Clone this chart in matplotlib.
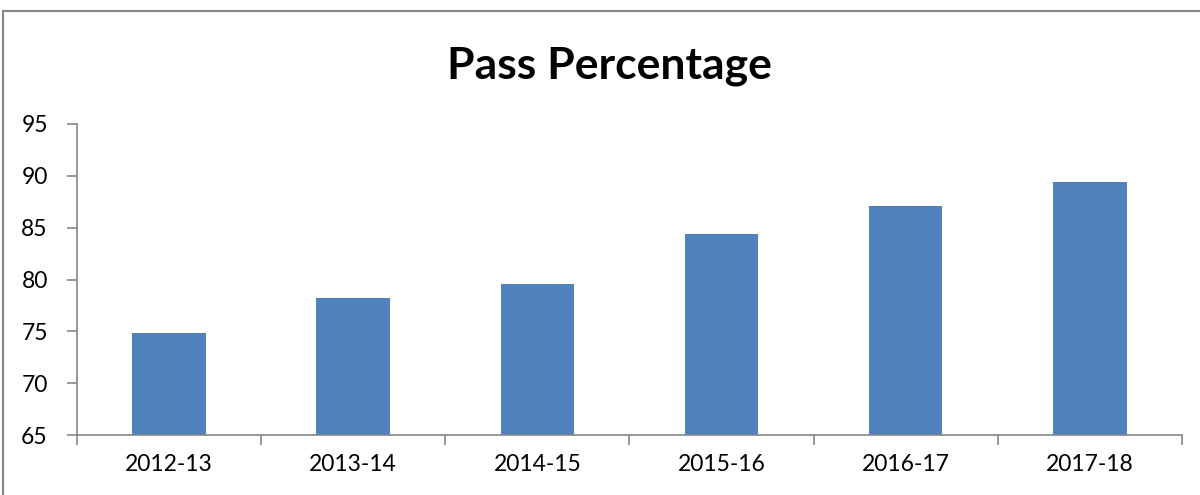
import matplotlib
matplotlib.use("Agg")
import matplotlib.pyplot as plt
import numpy as np
from matplotlib.patches import Rectangle

years = ["2012-13", "2013-14", "2014-15", "2015-16", "2016-17", "2017-18"]
pass_pct = [74.8, 78.2, 79.6, 84.4, 87.1, 89.4]
y_ticks = [65, 70, 75, 80, 85, 90, 95]

plt.rcParams['font.family'] = ['Lato', 'DejaVu Sans']

fig = plt.figure(figsize=(12, 4.95), dpi=100)
ax = fig.add_axes([0.0642, 0.1212, 0.9206, 0.6283])

x = np.arange(len(years))
ax.bar(x, pass_pct, width=0.4, color='#4F81BD', bottom=0)
ax.set_ylim(65, 95)
ax.set_xlim(-0.5, len(years) - 0.5)
ax.set_yticks(y_ticks)
ax.set_yticklabels([str(v) for v in y_ticks], fontsize=16.5)

ax.set_xticks(x)
ax.set_xticklabels(years, fontsize=16.5)
ax.tick_params(axis='x', length=0, pad=14)
ax.set_xticks(np.arange(-0.5, len(years)), minor=True)
ax.tick_params(axis='x', which='minor', length=7, color='#868686', width=1.2)
ax.tick_params(axis='y', length=7, color='#868686', width=1.2, pad=14)

for s in ['top', 'right']:
    ax.spines[s].set_visible(False)
for s in ['left', 'bottom']:
    ax.spines[s].set_color('#868686')
    ax.spines[s].set_linewidth(1.2)

fig.text(0.508, 0.866, "Pass Percentage", ha='center', va='center',
         fontsize=32, fontweight='bold')

# chart border
fig.patches.append(Rectangle((3 / 1200, -0.1), 1.2, 1 - 11 / 495 + 0.1,
                             transform=fig.transFigure, fill=False,
                             edgecolor='#868686', linewidth=1.5))

fig.savefig("out.png", dpi=100)
